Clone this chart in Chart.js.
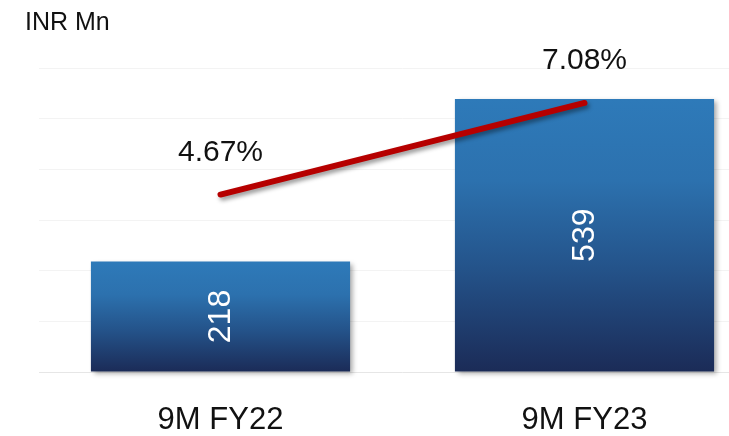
<!DOCTYPE html>
<html>
<head>
<meta charset="utf-8">
<script src="https://cdn.jsdelivr.net/npm/chart.js@4/dist/chart.umd.min.js"></script>
<style>
  html, body { margin: 0; padding: 0; background: #ffffff; }
  #wrap { width: 729px; height: 436px; overflow: hidden; position: relative; }
  canvas { display: block; }
</style>
</head>
<body>
<div id="wrap"><canvas id="chart" width="770" height="436"></canvas></div>
<script>
// Revenue (INR Mn) and margin (%) for the nine-month periods
const categories = ['9M FY22', '9M FY23'];
const revenue = [218, 539];
const marginPct = [4.67, 7.08];

// Axis ranges
const revenueAxis = { min: 0, max: 600, step: 100 };
const marginAxis = { min: 0, max: 8 };

const FONT = "'Liberation Sans', Arial, Helvetica, sans-serif";
Chart.defaults.font.family = FONT;
Chart.defaults.color = '#111111';

// Vertical blue gradient, one per bar, from the bar's top down to the base
function barGradient(ctx) {
  const chart = ctx.chart;
  if (!chart.chartArea || ctx.type !== 'data') return '#2e7ab9';
  const y = chart.scales.y;
  const top = y.getPixelForValue(ctx.raw);
  const bottom = y.getPixelForValue(0);
  const g = chart.ctx.createLinearGradient(0, top, 0, bottom);
  g.addColorStop(0, '#2e7ab9');
  g.addColorStop(0.3, '#2c71ae');
  g.addColorStop(0.62, '#24538a');
  g.addColorStop(1, '#1b2b57');
  return g;
}

// Soft drop shadows under the bars and the margin line
const shadowPlugin = {
  id: 'markShadow',
  beforeDatasetDraw(chart, args) {
    const c = chart.ctx;
    c.save();
    if (args.meta.type === 'bar') {
      c.shadowColor = 'rgba(0,0,0,0.35)';
      c.shadowBlur = 5;
      c.shadowOffsetX = 3;
      c.shadowOffsetY = 2;
    } else {
      c.shadowColor = 'rgba(0,0,0,0.4)';
      c.shadowBlur = 4;
      c.shadowOffsetX = 2;
      c.shadowOffsetY = 3;
    }
  },
  afterDatasetDraw(chart) {
    chart.ctx.restore();
  }
};

// Value labels: rotated revenue inside the bars, margin above the line points
const valueLabels = {
  id: 'valueLabels',
  afterDatasetsDraw(chart) {
    const c = chart.ctx;
    const bars = chart.getDatasetMeta(0).data;
    bars.forEach((el, i) => {
      const p = el.getProps(['x', 'y', 'base'], true);
      c.save();
      c.translate(p.x + 1, (p.y + p.base) / 2);
      c.rotate(-Math.PI / 2);
      c.fillStyle = '#ffffff';
      c.font = '32px ' + FONT;
      c.textAlign = 'center';
      c.textBaseline = 'middle';
      c.fillText(String(revenue[i]), 0, 0);
      c.restore();
    });
    const pts = chart.getDatasetMeta(1).data;
    pts.forEach((el, i) => {
      const p = el.getProps(['x', 'y'], true);
      c.save();
      c.fillStyle = '#111111';
      c.font = '30px ' + FONT;
      c.textAlign = 'center';
      c.textBaseline = 'middle';
      c.fillText(marginPct[i].toFixed(2) + '%', p.x, p.y - 42);
      c.restore();
    });
  }
};

new Chart(document.getElementById('chart'), {
  data: {
    labels: categories,
    datasets: [
      {
        type: 'bar',
        label: 'Revenue',
        data: revenue,
        yAxisID: 'y',
        backgroundColor: barGradient,
        borderWidth: 0,
        categoryPercentage: 1,
        barPercentage: 0.712,
        order: 2,
        clip: false
      },
      {
        type: 'line',
        label: 'Margin',
        data: marginPct,
        yAxisID: 'y2',
        borderColor: '#b60000',
        borderWidth: 6,
        borderCapStyle: 'round',
        pointRadius: 0,
        pointHoverRadius: 0,
        tension: 0,
        fill: false,
        order: 1,
        clip: false
      }
    ]
  },
  options: {
    responsive: false,
    devicePixelRatio: 1,
    animation: false,
    layout: { padding: { left: 25, right: 3.5, top: 0, bottom: 0 } },
    plugins: {
      legend: { display: false },
      tooltip: { enabled: false },
      title: {
        display: true,
        text: 'INR Mn',
        align: 'start',
        color: '#111111',
        font: { size: 25, weight: 'normal' },
        padding: { top: 8, bottom: 30 }
      }
    },
    scales: {
      x: {
        offset: true,
        grid: { display: false, drawTicks: false },
        border: { display: false },
        ticks: { color: '#111111', font: { size: 31 }, padding: 30 },
        afterFit(s) { s.height = 64; }
      },
      y: {
        position: 'left',
        min: revenueAxis.min,
        max: revenueAxis.max,
        ticks: { display: false, stepSize: revenueAxis.step },
        grid: {
          drawTicks: false,
          lineWidth: 1,
          color: (ctx) => (ctx.tick && ctx.tick.value === 0 ? '#e6e6e6' : '#f3f3f3')
        },
        border: { display: false },
        afterFit(s) { s.width = 13.5; }
      },
      y2: {
        position: 'right',
        display: false,
        min: marginAxis.min,
        max: marginAxis.max
      }
    }
  },
  plugins: [shadowPlugin, valueLabels]
});
</script>
</body>
</html>
